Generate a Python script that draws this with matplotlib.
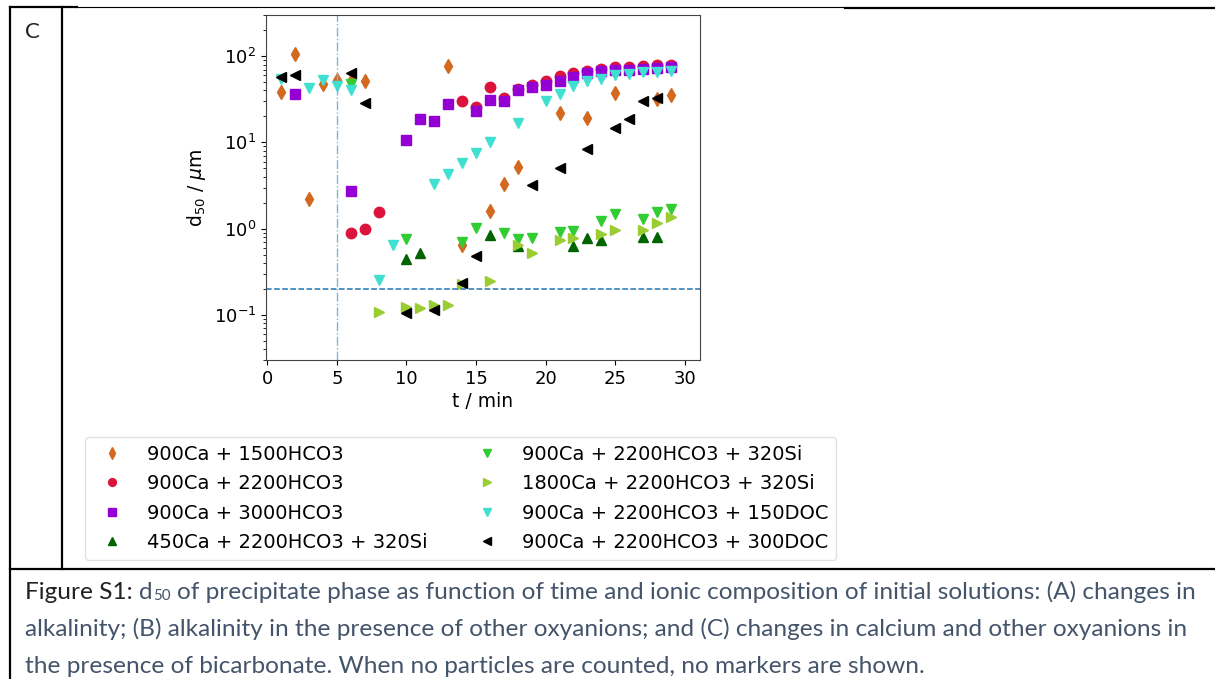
import matplotlib
matplotlib.use('Agg')
import matplotlib.pyplot as plt
from matplotlib.lines import Line2D

# d50 (um) vs time (min) for each solution
t_1500 = [1, 2, 3, 4, 5, 6, 7, 13, 14, 16, 17, 18, 21, 23, 25, 28, 29]
d_1500 = [38, 105, 2.2, 47, 53, 52, 52, 77, 0.64, 1.6, 3.3, 5.2, 22, 19, 37, 32, 35]

t_2200 = [6, 7, 8, 14, 15, 16, 17, 18, 19, 20, 21, 22, 23, 24, 25, 26, 27, 28, 29]
d_2200 = [0.9, 0.98, 1.55, 30, 26, 44, 33, 42, 46, 52, 59, 64, 68, 71, 74, 74, 76, 78, 80]

t_3000 = [2, 6, 10, 11, 12, 13, 15, 16, 17, 18, 19, 20, 21, 22, 23, 24, 25, 26, 27, 28, 29]
d_3000 = [36, 2.7, 10.6, 18.7, 17.6, 28, 23, 31, 30.5, 40, 44, 46, 51, 57, 63, 68, 70, 70, 71, 72, 74]

t_450si = [10, 11, 16, 18, 22, 23, 24, 27, 28]
d_450si = [0.44, 0.52, 0.84, 0.63, 0.63, 0.78, 0.73, 0.79, 0.80]

t_900si = [6, 10, 14, 15, 17, 18, 19, 21, 22, 24, 25, 27, 28, 29]
d_900si = [48, 0.75, 0.70, 1.02, 0.88, 0.75, 0.78, 0.92, 0.93, 1.24, 1.46, 1.3, 1.58, 1.7]

t_1800si = [8, 10, 11, 12, 13, 14, 16, 18, 19, 21, 22, 24, 25, 27, 28, 29]
d_1800si = [0.107, 0.122, 0.12, 0.13, 0.13, 0.23, 0.244, 0.65, 0.52, 0.73, 0.78, 0.86, 0.96, 0.96, 1.16, 1.36]

t_150doc = [1, 3, 4, 5, 6, 8, 9, 12, 13, 14, 15, 16, 18, 20, 21, 22, 23, 24, 25, 26, 27, 28, 29]
d_150doc = [55, 42.5, 53, 45, 40.6, 0.255, 0.64, 3.3, 4.3, 5.7, 7.5, 10.1, 16.8, 30, 36.6, 45, 52, 55, 60, 62, 65, 66, 67]

t_300doc = [1, 2, 6, 7, 10, 12, 14, 15, 19, 21, 23, 25, 26, 27, 28]
d_300doc = [58, 60, 64, 29, 0.105, 0.115, 0.233, 0.48, 3.2, 5.1, 8.3, 14.8, 18.7, 30.6, 32.6]

labels = ['900Ca + 1500HCO3', '900Ca + 2200HCO3', '900Ca + 3000HCO3',
          '450Ca + 2200HCO3 + 320Si', '900Ca + 2200HCO3 + 320Si',
          '1800Ca + 2200HCO3 + 320Si', '900Ca + 2200HCO3 + 150DOC',
          '900Ca + 2200HCO3 + 300DOC']
series = [(t_1500, d_1500), (t_2200, d_2200), (t_3000, d_3000), (t_450si, d_450si),
          (t_900si, d_900si), (t_1800si, d_1800si), (t_150doc, d_150doc),
          (t_300doc, d_300doc)]
colors = ['#d2691e', '#dc143c', '#9400d3', '#006400', '#32cd32', '#9acd32', '#40e0d0', 'black']
markers = ['d', 'o', 's', '^', 'v', '>', 'v', '<']

t_onset = 5
d_limit = 0.2

W, H = 1215, 679
fig = plt.figure(figsize=(W / 100, H / 100), dpi=100)

def fx(x):
    return x / W

def fy(y):
    return 1 - y / H

ax = fig.add_axes([fx(266), fy(360), 434 / W, 345 / H])
handles = []
for (t, d), c, m, lab in zip(series, colors, markers, labels):
    h, = ax.plot(t, d, ls='none', marker=m, color=c, ms=7.5, mec=c, label=lab)
    handles.append(h)

ax.axvline(t_onset, color='#7fb3d9', ls='-.', lw=1)
ax.axhline(d_limit, color='#1f77b4', ls='--', lw=1.1)
ax.set_yscale('log')
ax.set_xlim(-0.1, 31.1)
ax.set_ylim(0.03, 300)
ax.set_xticks([0, 5, 10, 15, 20, 25, 30])
ax.tick_params(labelsize=13)
ax.set_xlabel('t / min', fontsize=13.5, labelpad=3)
ax.set_ylabel('d$_{50}$ / $\\mu$m', fontsize=13.5)
for s in ax.spines.values():
    s.set_color('#444444')

fig.legend(handles, labels, loc='upper left', bbox_to_anchor=(fx(85), fy(437)),
           borderaxespad=0, ncol=2, fontsize=14, labelspacing=0.54,
           columnspacing=2.05, markerscale=0.75, edgecolor='#d9d9d9')

# table borders of the document page
def hline(x0, x1, y, lw):
    fig.add_artist(Line2D([fx(x0), fx(x1)], [fy(y), fy(y)], color='black', lw=lw))

def vline(x, y0, y1, lw):
    fig.add_artist(Line2D([fx(x), fx(x)], [fy(y0), fy(y1)], color='black', lw=lw))

hline(10, 77, 7, 1.6)
hline(77, 845, 7, 0.8)
hline(845, 1215, 7.5, 1.6)
hline(10, 1215, 569, 1.6)
vline(10, 7, 679, 1.6)
vline(62, 7, 569, 1.6)

cap = ['Lato', 'DejaVu Sans']
fig.text(fx(25), fy(38), 'C', fontsize=16, family=cap, color='#222222')

gray = '#44546a'
r = fig.canvas.get_renderer()

def width(s, size):
    t = fig.text(0, 0, s, fontsize=size, family=cap)
    w = t.get_window_extent(r).width
    t.remove()
    return w

line2 = ('alkalinity; (B) alkalinity in the presence of other oxyanions; and (C) '
         'changes in calcium and other oxyanions in')
size = 16 * 1162 / width(line2, 16)
space = width('a a', size) - width('aa', size)

def run(x, y, parts):
    for s, c, sz, dy in parts:
        t = fig.text(fx(x), fy(y + dy), s, fontsize=sz, family=cap, color=c, va='baseline')
        x += t.get_window_extent(r).width
    return x

x = run(25, 599, [('Figure S1:', '#222222', size, 0)])
x = run(x + space, 599, [('d', gray, size, 0)])
x = run(x + 1, 599, [('50', gray, size * 0.62, 1)])
run(x + space, 599, [('of precipitate phase as function of time and ionic composition of '
                      'initial solutions: (A) changes in', gray, size, 0)])
fig.text(fx(25), fy(636), line2, fontsize=size, family=cap, color=gray, va='baseline')
fig.text(fx(25), fy(673), 'the presence of bicarbonate. When no particles are counted, '
         'no markers are shown.', fontsize=size, family=cap, color=gray, va='baseline')

fig.savefig('out.png', dpi=100)
